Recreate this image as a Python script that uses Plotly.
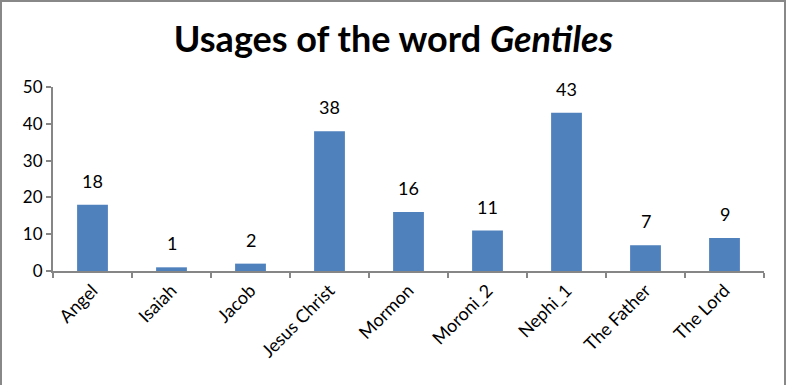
import plotly.graph_objects as go

categories = ["Angel", "Isaiah", "Jacob", "Jesus Christ", "Mormon", "Moroni_2", "Nephi_1", "The Father", "The Lord"]
values = [18, 1, 2, 38, 16, 11, 43, 7, 9]
y_ticks = [0, 10, 20, 30, 40, 50]

W, H = 787, 385
L, R, T, B = 53, 23, 87, 114
pw, ph = W - L - R, H - T - B

font_family = "Lato, Open Sans, sans-serif"

fig = go.Figure()
fig.add_trace(go.Bar(x=categories, y=values, marker=dict(color="#4F81BD", line=dict(width=0)),
                     showlegend=False, hoverinfo="x+y"))

for c, v in zip(categories, values):
    fig.add_annotation(x=c, y=v, text=str(v), showarrow=False, yanchor="bottom", yshift=11,
                       font=dict(size=18, color="#000000", family=font_family))

fig.add_shape(type="rect", xref="paper", yref="paper",
              x0=(1 - L) / pw, x1=1 + (R - 2) / pw, y0=-(B + 10) / ph, y1=1 + (T - 1) / ph,
              line=dict(color="#888888", width=2), fillcolor="rgba(0,0,0,0)")

fig.update_layout(
    width=W, height=H,
    margin=dict(l=L, r=R, t=T, b=B, autoexpand=False),
    paper_bgcolor="white", plot_bgcolor="white",
    bargap=0.61,
    title=dict(text="<b>Usages of the word <i>Gentiles</i></b>", x=0.5, xanchor="center",
               y=1 - 39 / H, yanchor="middle",
               font=dict(size=36, color="#000000", family=font_family)),
    font=dict(family=font_family, size=16, color="#000000"),
    xaxis=dict(tickangle=-45, ticks="outside", tickson="boundaries", ticklen=5, tickwidth=2,
               tickcolor="#868686", showline=True, linecolor="#868686", linewidth=2,
               showgrid=False, automargin=False, tickfont=dict(size=18, family=font_family)),
    yaxis=dict(range=[0, 50], tickvals=y_ticks, ticks="outside", ticklen=5, tickwidth=2,
               tickcolor="#868686", showline=True, linecolor="#868686", linewidth=2,
               showgrid=False, zeroline=False, automargin=False,
               tickfont=dict(size=17, family=font_family)),
)

fig.write_html("out.html", config={"displayModeBar": False},
               post_script="document.body.style.margin='0';document.body.style.overflow='hidden';")
